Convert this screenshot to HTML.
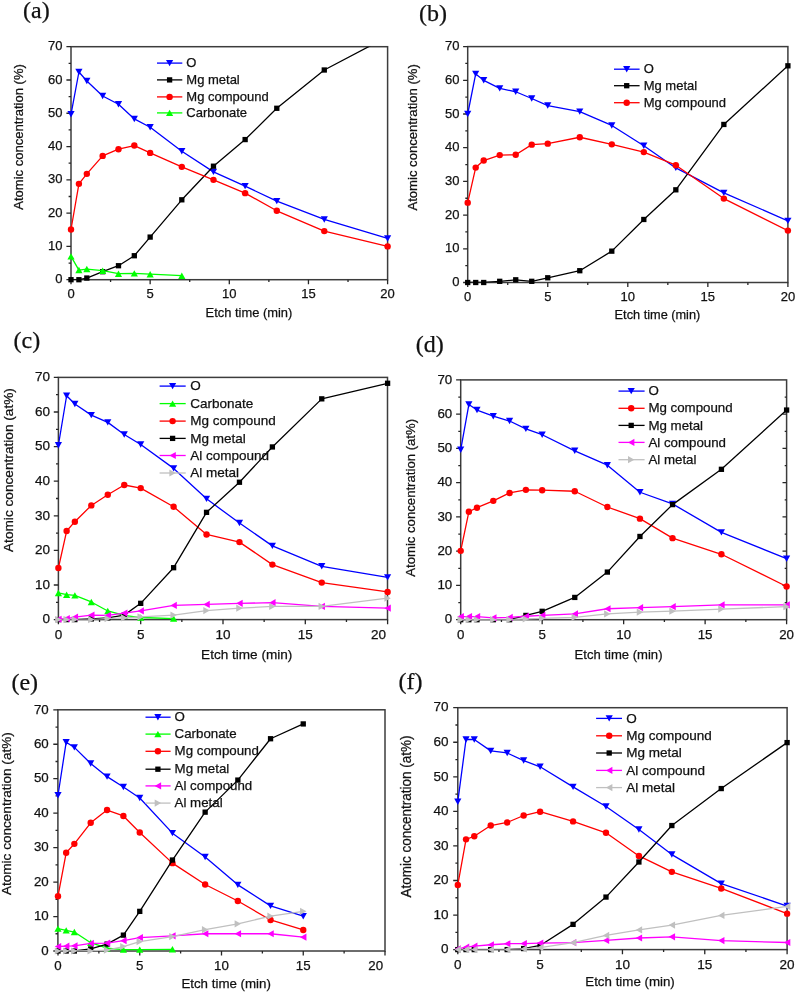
<!DOCTYPE html>
<html><head><meta charset="utf-8"><title>Atomic concentration vs etch time</title>
<style>html,body{margin:0;padding:0;background:#fff;}svg{display:block;will-change:transform;}text{fill:#111;stroke:#111;stroke-width:0.25px;}</style>
</head><body>
<svg width="796" height="992" viewBox="0 0 796 992" font-family="'Liberation Sans', sans-serif">
<rect width="796" height="992" fill="#fff"/>
<g id="pa">
<clipPath id="ca"><rect x="71" y="46.7" width="316.6" height="233"/></clipPath>
<rect x="71" y="46.7" width="316.6" height="233" fill="none" stroke="#3c3c3c" stroke-width="1.5"/>
<path d="M71 279.7v4.6 M110.58 279.7v2.4 M150.15 279.7v4.6 M189.72 279.7v2.4 M229.3 279.7v4.6 M268.88 279.7v2.4 M308.45 279.7v4.6 M348.02 279.7v2.4 M387.6 279.7v4.6 M71 279.7h-4.6 M71 263.06h-2.4 M71 246.41h-4.6 M71 229.77h-2.4 M71 213.13h-4.6 M71 196.49h-2.4 M71 179.84h-4.6 M71 163.2h-2.4 M71 146.56h-4.6 M71 129.91h-2.4 M71 113.27h-4.6 M71 96.63h-2.4 M71 79.99h-4.6 M71 63.34h-2.4 M71 46.7h-4.6" stroke="#262626" stroke-width="1.3" fill="none"/>
<polyline clip-path="url(#ca)" points="71,114.27 78.92,72 86.83,80.98 102.66,95.96 118.49,104.28 134.32,118.93 150.15,127.25 181.81,151.22 213.47,171.85 245.13,186.17 276.79,201.15 324.28,219.45 387.6,238.43" fill="none" stroke="#0000ff" stroke-width="1.3" stroke-linejoin="round"/>
<polygon points="67.4,111.07 74.6,111.07 71,117.47" fill="#0000ff"/>
<polygon points="75.32,68.8 82.52,68.8 78.92,75.2" fill="#0000ff"/>
<polygon points="83.23,77.78 90.43,77.78 86.83,84.18" fill="#0000ff"/>
<polygon points="99.06,92.76 106.26,92.76 102.66,99.16" fill="#0000ff"/>
<polygon points="114.89,101.08 122.09,101.08 118.49,107.48" fill="#0000ff"/>
<polygon points="130.72,115.73 137.92,115.73 134.32,122.13" fill="#0000ff"/>
<polygon points="146.55,124.05 153.75,124.05 150.15,130.45" fill="#0000ff"/>
<polygon points="178.21,148.02 185.41,148.02 181.81,154.42" fill="#0000ff"/>
<polygon points="209.87,168.65 217.07,168.65 213.47,175.05" fill="#0000ff"/>
<polygon points="241.53,182.97 248.73,182.97 245.13,189.37" fill="#0000ff"/>
<polygon points="273.19,197.95 280.39,197.95 276.79,204.35" fill="#0000ff"/>
<polygon points="320.68,216.25 327.88,216.25 324.28,222.65" fill="#0000ff"/>
<polygon points="384,235.23 391.2,235.23 387.6,241.63" fill="#0000ff"/>
<polyline clip-path="url(#ca)" points="71,279.7 78.92,279.7 86.83,278.04 102.66,271.71 118.49,265.72 134.32,255.73 150.15,237.09 181.81,199.81 213.47,166.2 245.13,139.57 276.79,108.28 324.28,70 387.6,36.71" fill="none" stroke="#000000" stroke-width="1.3" stroke-linejoin="round"/>
<rect x="68.35" y="277.05" width="5.3" height="5.3" fill="#000000"/>
<rect x="76.27" y="277.05" width="5.3" height="5.3" fill="#000000"/>
<rect x="84.18" y="275.39" width="5.3" height="5.3" fill="#000000"/>
<rect x="100.01" y="269.06" width="5.3" height="5.3" fill="#000000"/>
<rect x="115.84" y="263.07" width="5.3" height="5.3" fill="#000000"/>
<rect x="131.67" y="253.08" width="5.3" height="5.3" fill="#000000"/>
<rect x="147.5" y="234.44" width="5.3" height="5.3" fill="#000000"/>
<rect x="179.16" y="197.16" width="5.3" height="5.3" fill="#000000"/>
<rect x="210.82" y="163.55" width="5.3" height="5.3" fill="#000000"/>
<rect x="242.48" y="136.92" width="5.3" height="5.3" fill="#000000"/>
<rect x="274.14" y="105.63" width="5.3" height="5.3" fill="#000000"/>
<rect x="321.63" y="67.35" width="5.3" height="5.3" fill="#000000"/>
<polyline clip-path="url(#ca)" points="71,229.44 78.92,183.84 86.83,173.85 102.66,155.88 118.49,149.22 134.32,145.56 150.15,152.88 181.81,166.86 213.47,179.84 245.13,193.16 276.79,210.8 324.28,231.1 387.6,246.41" fill="none" stroke="#ff0000" stroke-width="1.3" stroke-linejoin="round"/>
<circle cx="71" cy="229.44" r="3.2" fill="#ff0000"/>
<circle cx="78.92" cy="183.84" r="3.2" fill="#ff0000"/>
<circle cx="86.83" cy="173.85" r="3.2" fill="#ff0000"/>
<circle cx="102.66" cy="155.88" r="3.2" fill="#ff0000"/>
<circle cx="118.49" cy="149.22" r="3.2" fill="#ff0000"/>
<circle cx="134.32" cy="145.56" r="3.2" fill="#ff0000"/>
<circle cx="150.15" cy="152.88" r="3.2" fill="#ff0000"/>
<circle cx="181.81" cy="166.86" r="3.2" fill="#ff0000"/>
<circle cx="213.47" cy="179.84" r="3.2" fill="#ff0000"/>
<circle cx="245.13" cy="193.16" r="3.2" fill="#ff0000"/>
<circle cx="276.79" cy="210.8" r="3.2" fill="#ff0000"/>
<circle cx="324.28" cy="231.1" r="3.2" fill="#ff0000"/>
<circle cx="387.6" cy="246.41" r="3.2" fill="#ff0000"/>
<polyline clip-path="url(#ca)" points="71,256.4 78.92,270.05 86.83,269.05 102.66,270.71 118.49,273.71 134.32,273.38 150.15,274.21 181.81,275.71" fill="none" stroke="#00ff00" stroke-width="1.3" stroke-linejoin="round"/>
<polygon points="67.4,259.6 74.6,259.6 71,253.2" fill="#00ff00"/>
<polygon points="75.32,273.25 82.52,273.25 78.92,266.85" fill="#00ff00"/>
<polygon points="83.23,272.25 90.43,272.25 86.83,265.85" fill="#00ff00"/>
<polygon points="99.06,273.91 106.26,273.91 102.66,267.51" fill="#00ff00"/>
<polygon points="114.89,276.91 122.09,276.91 118.49,270.51" fill="#00ff00"/>
<polygon points="130.72,276.58 137.92,276.58 134.32,270.18" fill="#00ff00"/>
<polygon points="146.55,277.41 153.75,277.41 150.15,271.01" fill="#00ff00"/>
<polygon points="178.21,278.91 185.41,278.91 181.81,272.51" fill="#00ff00"/>
<text x="71" y="298.4" font-size="13" text-anchor="middle">0</text>
<text x="150.15" y="298.4" font-size="13" text-anchor="middle">5</text>
<text x="229.3" y="298.4" font-size="13" text-anchor="middle">10</text>
<text x="308.45" y="298.4" font-size="13" text-anchor="middle">15</text>
<text x="387.6" y="298.4" font-size="13" text-anchor="middle">20</text>
<text x="62.5" y="283.3" font-size="13" text-anchor="end">0</text>
<text x="62.5" y="250.01" font-size="13" text-anchor="end">10</text>
<text x="62.5" y="216.73" font-size="13" text-anchor="end">20</text>
<text x="62.5" y="183.44" font-size="13" text-anchor="end">30</text>
<text x="62.5" y="150.16" font-size="13" text-anchor="end">40</text>
<text x="62.5" y="116.87" font-size="13" text-anchor="end">50</text>
<text x="62.5" y="83.59" font-size="13" text-anchor="end">60</text>
<text x="62.5" y="50.3" font-size="13" text-anchor="end">70</text>
<text x="205.6" y="316.9" font-size="13" textLength="86.7" lengthAdjust="spacingAndGlyphs">Etch time (min)</text>
<text transform="translate(23,209.7) rotate(-90)" font-size="13.2" textLength="145.6" lengthAdjust="spacingAndGlyphs">Atomic concentration (%)</text>
<line x1="157" y1="63.1" x2="182.3" y2="63.1" stroke="#0000ff" stroke-width="1.3"/>
<polygon points="166,59.9 173.2,59.9 169.6,66.3" fill="#0000ff"/>
<text x="186.3" y="67.2" font-size="13">O</text>
<line x1="157" y1="79.9" x2="182.3" y2="79.9" stroke="#000000" stroke-width="1.3"/>
<rect x="166.95" y="77.25" width="5.3" height="5.3" fill="#000000"/>
<text x="186.3" y="84" font-size="13">Mg metal</text>
<line x1="157" y1="96.9" x2="182.3" y2="96.9" stroke="#ff0000" stroke-width="1.3"/>
<circle cx="169.6" cy="96.9" r="3.2" fill="#ff0000"/>
<text x="186.3" y="101" font-size="13">Mg compound</text>
<line x1="157" y1="112.9" x2="182.3" y2="112.9" stroke="#00ff00" stroke-width="1.3"/>
<polygon points="166,116.1 173.2,116.1 169.6,109.7" fill="#00ff00"/>
<text x="186.3" y="117" font-size="13">Carbonate</text>
<text x="23" y="18.4" font-family="&quot;Liberation Serif&quot;, serif" font-size="24">(a)</text>
</g>
<g id="pb">
<clipPath id="cb"><rect x="467.7" y="46.6" width="320.2" height="235.9"/></clipPath>
<rect x="467.7" y="46.6" width="320.2" height="235.9" fill="none" stroke="#3c3c3c" stroke-width="1.5"/>
<path d="M467.7 282.5v4.6 M507.72 282.5v2.4 M547.75 282.5v4.6 M587.77 282.5v2.4 M627.8 282.5v4.6 M667.83 282.5v2.4 M707.85 282.5v4.6 M747.88 282.5v2.4 M787.9 282.5v4.6 M467.7 282.5h-4.6 M467.7 265.65h-2.4 M467.7 248.8h-4.6 M467.7 231.95h-2.4 M467.7 215.1h-4.6 M467.7 198.25h-2.4 M467.7 181.4h-4.6 M467.7 164.55h-2.4 M467.7 147.7h-4.6 M467.7 130.85h-2.4 M467.7 114h-4.6 M467.7 97.15h-2.4 M467.7 80.3h-4.6 M467.7 63.45h-2.4 M467.7 46.6h-4.6" stroke="#262626" stroke-width="1.3" fill="none"/>
<polyline clip-path="url(#cb)" points="467.7,114 475.7,73.9 483.71,80.3 499.72,88.39 515.73,91.76 531.74,98.5 547.75,105.57 579.77,111.64 611.79,125.46 643.81,145.68 675.83,167.92 723.86,192.86 787.9,220.83" fill="none" stroke="#0000ff" stroke-width="1.3" stroke-linejoin="round"/>
<polygon points="464.1,110.8 471.3,110.8 467.7,117.2" fill="#0000ff"/>
<polygon points="472.1,70.7 479.31,70.7 475.7,77.1" fill="#0000ff"/>
<polygon points="480.11,77.1 487.31,77.1 483.71,83.5" fill="#0000ff"/>
<polygon points="496.12,85.19 503.32,85.19 499.72,91.59" fill="#0000ff"/>
<polygon points="512.13,88.56 519.33,88.56 515.73,94.96" fill="#0000ff"/>
<polygon points="528.14,95.3 535.34,95.3 531.74,101.7" fill="#0000ff"/>
<polygon points="544.15,102.37 551.35,102.37 547.75,108.77" fill="#0000ff"/>
<polygon points="576.17,108.44 583.37,108.44 579.77,114.84" fill="#0000ff"/>
<polygon points="608.19,122.26 615.39,122.26 611.79,128.66" fill="#0000ff"/>
<polygon points="640.21,142.48 647.41,142.48 643.81,148.88" fill="#0000ff"/>
<polygon points="672.23,164.72 679.43,164.72 675.83,171.12" fill="#0000ff"/>
<polygon points="720.26,189.66 727.46,189.66 723.86,196.06" fill="#0000ff"/>
<polygon points="784.3,217.63 791.5,217.63 787.9,224.03" fill="#0000ff"/>
<polyline clip-path="url(#cb)" points="467.7,282.5 475.7,282.5 483.71,282.5 499.72,281.32 515.73,279.8 531.74,281.32 547.75,277.78 579.77,270.7 611.79,251.16 643.81,219.48 675.83,189.82 723.86,124.45 787.9,65.81" fill="none" stroke="#000000" stroke-width="1.3" stroke-linejoin="round"/>
<rect x="465.05" y="279.85" width="5.3" height="5.3" fill="#000000"/>
<rect x="473.06" y="279.85" width="5.3" height="5.3" fill="#000000"/>
<rect x="481.06" y="279.85" width="5.3" height="5.3" fill="#000000"/>
<rect x="497.07" y="278.67" width="5.3" height="5.3" fill="#000000"/>
<rect x="513.08" y="277.15" width="5.3" height="5.3" fill="#000000"/>
<rect x="529.09" y="278.67" width="5.3" height="5.3" fill="#000000"/>
<rect x="545.1" y="275.13" width="5.3" height="5.3" fill="#000000"/>
<rect x="577.12" y="268.06" width="5.3" height="5.3" fill="#000000"/>
<rect x="609.14" y="248.51" width="5.3" height="5.3" fill="#000000"/>
<rect x="641.16" y="216.83" width="5.3" height="5.3" fill="#000000"/>
<rect x="673.18" y="187.17" width="5.3" height="5.3" fill="#000000"/>
<rect x="721.21" y="121.8" width="5.3" height="5.3" fill="#000000"/>
<rect x="785.25" y="63.16" width="5.3" height="5.3" fill="#000000"/>
<polyline clip-path="url(#cb)" points="467.7,202.63 475.7,167.58 483.71,160.51 499.72,155.11 515.73,154.78 531.74,144.67 547.75,143.66 579.77,137.25 611.79,144.33 643.81,152.08 675.83,165.22 723.86,198.59 787.9,230.6" fill="none" stroke="#ff0000" stroke-width="1.3" stroke-linejoin="round"/>
<circle cx="467.7" cy="202.63" r="3.2" fill="#ff0000"/>
<circle cx="475.7" cy="167.58" r="3.2" fill="#ff0000"/>
<circle cx="483.71" cy="160.51" r="3.2" fill="#ff0000"/>
<circle cx="499.72" cy="155.11" r="3.2" fill="#ff0000"/>
<circle cx="515.73" cy="154.78" r="3.2" fill="#ff0000"/>
<circle cx="531.74" cy="144.67" r="3.2" fill="#ff0000"/>
<circle cx="547.75" cy="143.66" r="3.2" fill="#ff0000"/>
<circle cx="579.77" cy="137.25" r="3.2" fill="#ff0000"/>
<circle cx="611.79" cy="144.33" r="3.2" fill="#ff0000"/>
<circle cx="643.81" cy="152.08" r="3.2" fill="#ff0000"/>
<circle cx="675.83" cy="165.22" r="3.2" fill="#ff0000"/>
<circle cx="723.86" cy="198.59" r="3.2" fill="#ff0000"/>
<circle cx="787.9" cy="230.6" r="3.2" fill="#ff0000"/>
<text x="467.7" y="300.6" font-size="13" text-anchor="middle">0</text>
<text x="547.75" y="300.6" font-size="13" text-anchor="middle">5</text>
<text x="627.8" y="300.6" font-size="13" text-anchor="middle">10</text>
<text x="707.85" y="300.6" font-size="13" text-anchor="middle">15</text>
<text x="787.9" y="300.6" font-size="13" text-anchor="middle">20</text>
<text x="459.4" y="286.1" font-size="13" text-anchor="end">0</text>
<text x="459.4" y="252.4" font-size="13" text-anchor="end">10</text>
<text x="459.4" y="218.7" font-size="13" text-anchor="end">20</text>
<text x="459.4" y="185" font-size="13" text-anchor="end">30</text>
<text x="459.4" y="151.3" font-size="13" text-anchor="end">40</text>
<text x="459.4" y="117.6" font-size="13" text-anchor="end">50</text>
<text x="459.4" y="83.9" font-size="13" text-anchor="end">60</text>
<text x="459.4" y="50.2" font-size="13" text-anchor="end">70</text>
<text x="614.6" y="319.1" font-size="13" textLength="85.7" lengthAdjust="spacingAndGlyphs">Etch time (min)</text>
<text transform="translate(416.5,210.6) rotate(-90)" font-size="13.0" textLength="146.4" lengthAdjust="spacingAndGlyphs">Atomic concentration (%)</text>
<line x1="614" y1="69.2" x2="639.6" y2="69.2" stroke="#0000ff" stroke-width="1.3"/>
<polygon points="623.1,66 630.3,66 626.7,72.4" fill="#0000ff"/>
<text x="643.7" y="73.3" font-size="13">O</text>
<line x1="614" y1="85.7" x2="639.6" y2="85.7" stroke="#000000" stroke-width="1.3"/>
<rect x="624.05" y="83.05" width="5.3" height="5.3" fill="#000000"/>
<text x="643.7" y="89.8" font-size="13">Mg metal</text>
<line x1="614" y1="102.7" x2="639.6" y2="102.7" stroke="#ff0000" stroke-width="1.3"/>
<circle cx="626.7" cy="102.7" r="3.2" fill="#ff0000"/>
<text x="643.7" y="106.8" font-size="13">Mg compound</text>
<text x="419" y="21" font-family="&quot;Liberation Serif&quot;, serif" font-size="24">(b)</text>
</g>
<g id="pc">
<clipPath id="cc"><rect x="58.4" y="377.4" width="329.1" height="242.2"/></clipPath>
<rect x="58.4" y="377.4" width="329.1" height="242.2" fill="none" stroke="#3c3c3c" stroke-width="1.5"/>
<path d="M58.4 619.6v4.6 M99.55 619.6v2.4 M140.7 619.6v4.6 M181.85 619.6v2.4 M223 619.6v4.6 M264.15 619.6v2.4 M305.3 619.6v4.6 M346.45 619.6v2.4 M387.6 619.6v4.6 M58.4 619.6h-4.6 M58.4 602.3h-2.4 M58.4 585h-4.6 M58.4 567.7h-2.4 M58.4 550.4h-4.6 M58.4 533.1h-2.4 M58.4 515.8h-4.6 M58.4 498.5h-2.4 M58.4 481.2h-4.6 M58.4 463.9h-2.4 M58.4 446.6h-4.6 M58.4 429.3h-2.4 M58.4 412h-4.6 M58.4 394.7h-2.4 M58.4 377.4h-4.6" stroke="#262626" stroke-width="1.3" fill="none"/>
<polyline clip-path="url(#cc)" points="58.4,445.22 66.63,395.74 74.86,404.04 91.32,415.11 107.78,422.38 124.24,434.49 140.7,444.52 173.62,468.4 206.54,498.85 239.46,523.07 272.38,545.9 321.76,566.32 387.6,577.39" fill="none" stroke="#0000ff" stroke-width="1.3" stroke-linejoin="round"/>
<polygon points="54.8,442.02 62,442.02 58.4,448.42" fill="#0000ff"/>
<polygon points="63.03,392.54 70.23,392.54 66.63,398.94" fill="#0000ff"/>
<polygon points="71.26,400.84 78.46,400.84 74.86,407.24" fill="#0000ff"/>
<polygon points="87.72,411.91 94.92,411.91 91.32,418.31" fill="#0000ff"/>
<polygon points="104.18,419.18 111.38,419.18 107.78,425.58" fill="#0000ff"/>
<polygon points="120.64,431.29 127.84,431.29 124.24,437.69" fill="#0000ff"/>
<polygon points="137.1,441.32 144.3,441.32 140.7,447.72" fill="#0000ff"/>
<polygon points="170.02,465.2 177.22,465.2 173.62,471.6" fill="#0000ff"/>
<polygon points="202.94,495.65 210.14,495.65 206.54,502.05" fill="#0000ff"/>
<polygon points="235.86,519.87 243.06,519.87 239.46,526.27" fill="#0000ff"/>
<polygon points="268.78,542.7 275.98,542.7 272.38,549.1" fill="#0000ff"/>
<polygon points="318.16,563.12 325.36,563.12 321.76,569.52" fill="#0000ff"/>
<polygon points="384,574.19 391.2,574.19 387.6,580.59" fill="#0000ff"/>
<polyline clip-path="url(#cc)" points="58.4,592.96 66.63,594.69 74.86,595.38 91.32,601.95 107.78,610.95 124.24,615.45 140.7,617.52 173.62,618.56" fill="none" stroke="#00ff00" stroke-width="1.3" stroke-linejoin="round"/>
<polygon points="54.8,596.16 62,596.16 58.4,589.76" fill="#00ff00"/>
<polygon points="63.03,597.89 70.23,597.89 66.63,591.49" fill="#00ff00"/>
<polygon points="71.26,598.58 78.46,598.58 74.86,592.18" fill="#00ff00"/>
<polygon points="87.72,605.15 94.92,605.15 91.32,598.75" fill="#00ff00"/>
<polygon points="104.18,614.15 111.38,614.15 107.78,607.75" fill="#00ff00"/>
<polygon points="120.64,618.65 127.84,618.65 124.24,612.25" fill="#00ff00"/>
<polygon points="137.1,620.72 144.3,620.72 140.7,614.32" fill="#00ff00"/>
<polygon points="170.02,621.76 177.22,621.76 173.62,615.36" fill="#00ff00"/>
<polyline clip-path="url(#cc)" points="58.4,568.05 66.63,531.02 74.86,521.68 91.32,505.42 107.78,494.69 124.24,485.01 140.7,488.12 173.62,506.8 206.54,534.48 239.46,542.1 272.38,564.59 321.76,582.58 387.6,591.92" fill="none" stroke="#ff0000" stroke-width="1.3" stroke-linejoin="round"/>
<circle cx="58.4" cy="568.05" r="3.2" fill="#ff0000"/>
<circle cx="66.63" cy="531.02" r="3.2" fill="#ff0000"/>
<circle cx="74.86" cy="521.68" r="3.2" fill="#ff0000"/>
<circle cx="91.32" cy="505.42" r="3.2" fill="#ff0000"/>
<circle cx="107.78" cy="494.69" r="3.2" fill="#ff0000"/>
<circle cx="124.24" cy="485.01" r="3.2" fill="#ff0000"/>
<circle cx="140.7" cy="488.12" r="3.2" fill="#ff0000"/>
<circle cx="173.62" cy="506.8" r="3.2" fill="#ff0000"/>
<circle cx="206.54" cy="534.48" r="3.2" fill="#ff0000"/>
<circle cx="239.46" cy="542.1" r="3.2" fill="#ff0000"/>
<circle cx="272.38" cy="564.59" r="3.2" fill="#ff0000"/>
<circle cx="321.76" cy="582.58" r="3.2" fill="#ff0000"/>
<circle cx="387.6" cy="591.92" r="3.2" fill="#ff0000"/>
<polyline clip-path="url(#cc)" points="58.4,619.6 66.63,619.6 74.86,619.6 91.32,618.91 107.78,617.87 124.24,615.1 140.7,603.34 173.62,567.7 206.54,512.34 239.46,482.24 272.38,446.95 321.76,398.85 387.6,383.28" fill="none" stroke="#000000" stroke-width="1.3" stroke-linejoin="round"/>
<rect x="55.75" y="616.95" width="5.3" height="5.3" fill="#000000"/>
<rect x="63.98" y="616.95" width="5.3" height="5.3" fill="#000000"/>
<rect x="72.21" y="616.95" width="5.3" height="5.3" fill="#000000"/>
<rect x="88.67" y="616.26" width="5.3" height="5.3" fill="#000000"/>
<rect x="105.13" y="615.22" width="5.3" height="5.3" fill="#000000"/>
<rect x="121.59" y="612.45" width="5.3" height="5.3" fill="#000000"/>
<rect x="138.05" y="600.69" width="5.3" height="5.3" fill="#000000"/>
<rect x="170.97" y="565.05" width="5.3" height="5.3" fill="#000000"/>
<rect x="203.89" y="509.69" width="5.3" height="5.3" fill="#000000"/>
<rect x="236.81" y="479.59" width="5.3" height="5.3" fill="#000000"/>
<rect x="269.73" y="444.3" width="5.3" height="5.3" fill="#000000"/>
<rect x="319.11" y="396.2" width="5.3" height="5.3" fill="#000000"/>
<rect x="384.95" y="380.63" width="5.3" height="5.3" fill="#000000"/>
<polyline clip-path="url(#cc)" points="58.4,619.25 66.63,618.56 74.86,617.18 91.32,615.1 107.78,615.45 124.24,613.03 140.7,610.95 173.62,605.41 206.54,604.38 239.46,603.34 272.38,602.65 321.76,606.45 387.6,608.18" fill="none" stroke="#ff00ff" stroke-width="1.3" stroke-linejoin="round"/>
<polygon points="61.6,615.65 61.6,622.85 55.2,619.25" fill="#ff00ff"/>
<polygon points="69.83,614.96 69.83,622.16 63.43,618.56" fill="#ff00ff"/>
<polygon points="78.06,613.58 78.06,620.78 71.66,617.18" fill="#ff00ff"/>
<polygon points="94.52,611.5 94.52,618.7 88.12,615.1" fill="#ff00ff"/>
<polygon points="110.98,611.85 110.98,619.05 104.58,615.45" fill="#ff00ff"/>
<polygon points="127.44,609.43 127.44,616.63 121.04,613.03" fill="#ff00ff"/>
<polygon points="143.9,607.35 143.9,614.55 137.5,610.95" fill="#ff00ff"/>
<polygon points="176.82,601.81 176.82,609.01 170.42,605.41" fill="#ff00ff"/>
<polygon points="209.74,600.78 209.74,607.98 203.34,604.38" fill="#ff00ff"/>
<polygon points="242.66,599.74 242.66,606.94 236.26,603.34" fill="#ff00ff"/>
<polygon points="275.58,599.05 275.58,606.25 269.18,602.65" fill="#ff00ff"/>
<polygon points="324.96,602.85 324.96,610.05 318.56,606.45" fill="#ff00ff"/>
<polygon points="390.8,604.58 390.8,611.78 384.4,608.18" fill="#ff00ff"/>
<polyline clip-path="url(#cc)" points="58.4,619.6 66.63,619.6 74.86,619.6 91.32,619.6 107.78,618.56 124.24,617.87 140.7,616.83 173.62,615.1 206.54,610.6 239.46,608.18 272.38,606.45 321.76,606.45 387.6,598.15" fill="none" stroke="#c0c0c0" stroke-width="1.3" stroke-linejoin="round"/>
<polygon points="55.2,616 55.2,623.2 61.6,619.6" fill="#c0c0c0"/>
<polygon points="63.43,616 63.43,623.2 69.83,619.6" fill="#c0c0c0"/>
<polygon points="71.66,616 71.66,623.2 78.06,619.6" fill="#c0c0c0"/>
<polygon points="88.12,616 88.12,623.2 94.52,619.6" fill="#c0c0c0"/>
<polygon points="104.58,614.96 104.58,622.16 110.98,618.56" fill="#c0c0c0"/>
<polygon points="121.04,614.27 121.04,621.47 127.44,617.87" fill="#c0c0c0"/>
<polygon points="137.5,613.23 137.5,620.43 143.9,616.83" fill="#c0c0c0"/>
<polygon points="170.42,611.5 170.42,618.7 176.82,615.1" fill="#c0c0c0"/>
<polygon points="203.34,607 203.34,614.2 209.74,610.6" fill="#c0c0c0"/>
<polygon points="236.26,604.58 236.26,611.78 242.66,608.18" fill="#c0c0c0"/>
<polygon points="269.18,602.85 269.18,610.05 275.58,606.45" fill="#c0c0c0"/>
<polygon points="318.56,602.85 318.56,610.05 324.96,606.45" fill="#c0c0c0"/>
<polygon points="384.4,594.55 384.4,601.75 390.8,598.15" fill="#c0c0c0"/>
<text x="58.4" y="639.06" font-size="13.5" text-anchor="middle">0</text>
<text x="140.7" y="639.06" font-size="13.5" text-anchor="middle">5</text>
<text x="223" y="639.06" font-size="13.5" text-anchor="middle">10</text>
<text x="305.3" y="639.06" font-size="13.5" text-anchor="middle">15</text>
<text x="378.4" y="639.06" font-size="13.5" text-anchor="middle">20</text>
<text x="50" y="623.38" font-size="13.5" text-anchor="end">0</text>
<text x="50" y="588.78" font-size="13.5" text-anchor="end">10</text>
<text x="50" y="554.18" font-size="13.5" text-anchor="end">20</text>
<text x="50" y="519.58" font-size="13.5" text-anchor="end">30</text>
<text x="50" y="484.98" font-size="13.5" text-anchor="end">40</text>
<text x="50" y="450.38" font-size="13.5" text-anchor="end">50</text>
<text x="50" y="415.78" font-size="13.5" text-anchor="end">60</text>
<text x="50" y="381.18" font-size="13.5" text-anchor="end">70</text>
<text x="201.1" y="658.6" font-size="13.5" textLength="91.2" lengthAdjust="spacingAndGlyphs">Etch time (min)</text>
<text transform="translate(12.9,552) rotate(-90)" font-size="13.7" textLength="163.9" lengthAdjust="spacingAndGlyphs">Atomic concentration (at%)</text>
<line x1="159.6" y1="386.1" x2="185.7" y2="386.1" stroke="#0000ff" stroke-width="1.3"/>
<polygon points="169,382.9 176.2,382.9 172.6,389.3" fill="#0000ff"/>
<text x="190.2" y="390.36" font-size="13.5">O</text>
<line x1="159.6" y1="403.6" x2="185.7" y2="403.6" stroke="#00ff00" stroke-width="1.3"/>
<polygon points="169,406.8 176.2,406.8 172.6,400.4" fill="#00ff00"/>
<text x="190.2" y="407.86" font-size="13.5">Carbonate</text>
<line x1="159.6" y1="421.1" x2="185.7" y2="421.1" stroke="#ff0000" stroke-width="1.3"/>
<circle cx="172.6" cy="421.1" r="3.2" fill="#ff0000"/>
<text x="190.2" y="425.36" font-size="13.5">Mg compound</text>
<line x1="159.6" y1="438.4" x2="185.7" y2="438.4" stroke="#000000" stroke-width="1.3"/>
<rect x="169.95" y="435.75" width="5.3" height="5.3" fill="#000000"/>
<text x="190.2" y="442.66" font-size="13.5">Mg metal</text>
<line x1="159.6" y1="455.5" x2="185.7" y2="455.5" stroke="#ff00ff" stroke-width="1.3"/>
<polygon points="175.8,451.9 175.8,459.1 169.4,455.5" fill="#ff00ff"/>
<text x="190.2" y="459.76" font-size="13.5">Al compound</text>
<line x1="159.6" y1="473" x2="185.7" y2="473" stroke="#c0c0c0" stroke-width="1.3"/>
<polygon points="169.4,469.4 169.4,476.6 175.8,473" fill="#c0c0c0"/>
<text x="190.2" y="477.26" font-size="13.5">Al metal</text>
<text x="13.6" y="348" font-family="&quot;Liberation Serif&quot;, serif" font-size="24">(c)</text>
</g>
<g id="pd">
<clipPath id="cd"><rect x="460.7" y="379.9" width="325.9" height="239.8"/></clipPath>
<rect x="460.7" y="379.9" width="325.9" height="239.8" fill="none" stroke="#3c3c3c" stroke-width="1.5"/>
<path d="M460.7 619.7v4.6 M501.44 619.7v2.4 M542.17 619.7v4.6 M582.91 619.7v2.4 M623.65 619.7v4.6 M664.39 619.7v2.4 M705.12 619.7v4.6 M745.86 619.7v2.4 M786.6 619.7v4.6 M460.7 619.7h-4.6 M460.7 602.57h-2.4 M786.6 602.57h-1.9 M460.7 585.44h-4.6 M786.6 585.44h-4.1 M460.7 568.31h-2.4 M786.6 568.31h-1.9 M460.7 551.19h-4.6 M786.6 551.19h-4.1 M460.7 534.06h-2.4 M786.6 534.06h-1.9 M460.7 516.93h-4.6 M786.6 516.93h-4.1 M460.7 499.8h-2.4 M786.6 499.8h-1.9 M460.7 482.67h-4.6 M786.6 482.67h-4.1 M460.7 465.54h-2.4 M786.6 465.54h-1.9 M460.7 448.41h-4.6 M786.6 448.41h-4.1 M460.7 431.29h-2.4 M786.6 431.29h-1.9 M460.7 414.16h-4.6 M786.6 414.16h-4.1 M460.7 397.03h-2.4 M786.6 397.03h-1.9 M460.7 379.9h-4.6" stroke="#262626" stroke-width="1.3" fill="none"/>
<polyline clip-path="url(#cd)" points="460.7,449.78 468.85,404.57 477,410.05 493.29,416.21 509.58,421.01 525.88,428.89 542.17,434.71 574.76,450.81 607.36,465.2 639.95,492.26 672.54,503.91 721.42,532.34 786.6,558.72" fill="none" stroke="#0000ff" stroke-width="1.3" stroke-linejoin="round"/>
<polygon points="457.1,446.58 464.3,446.58 460.7,452.98" fill="#0000ff"/>
<polygon points="465.25,401.37 472.45,401.37 468.85,407.77" fill="#0000ff"/>
<polygon points="473.39,406.85 480.6,406.85 477,413.25" fill="#0000ff"/>
<polygon points="489.69,413.01 496.89,413.01 493.29,419.41" fill="#0000ff"/>
<polygon points="505.98,417.81 513.18,417.81 509.58,424.21" fill="#0000ff"/>
<polygon points="522.28,425.69 529.48,425.69 525.88,432.09" fill="#0000ff"/>
<polygon points="538.57,431.51 545.77,431.51 542.17,437.91" fill="#0000ff"/>
<polygon points="571.16,447.61 578.37,447.61 574.76,454.01" fill="#0000ff"/>
<polygon points="603.75,462 610.96,462 607.36,468.4" fill="#0000ff"/>
<polygon points="636.35,489.06 643.55,489.06 639.95,495.46" fill="#0000ff"/>
<polygon points="668.94,500.71 676.14,500.71 672.54,507.11" fill="#0000ff"/>
<polygon points="717.82,529.14 725.02,529.14 721.42,535.54" fill="#0000ff"/>
<polygon points="783,555.52 790.2,555.52 786.6,561.92" fill="#0000ff"/>
<polyline clip-path="url(#cd)" points="460.7,550.84 468.85,511.79 477,507.68 493.29,500.83 509.58,492.95 525.88,489.87 542.17,490.21 574.76,491.24 607.36,506.99 639.95,518.64 672.54,538.17 721.42,554.27 786.6,586.47" fill="none" stroke="#ff0000" stroke-width="1.3" stroke-linejoin="round"/>
<circle cx="460.7" cy="550.84" r="3.2" fill="#ff0000"/>
<circle cx="468.85" cy="511.79" r="3.2" fill="#ff0000"/>
<circle cx="477" cy="507.68" r="3.2" fill="#ff0000"/>
<circle cx="493.29" cy="500.83" r="3.2" fill="#ff0000"/>
<circle cx="509.58" cy="492.95" r="3.2" fill="#ff0000"/>
<circle cx="525.88" cy="489.87" r="3.2" fill="#ff0000"/>
<circle cx="542.17" cy="490.21" r="3.2" fill="#ff0000"/>
<circle cx="574.76" cy="491.24" r="3.2" fill="#ff0000"/>
<circle cx="607.36" cy="506.99" r="3.2" fill="#ff0000"/>
<circle cx="639.95" cy="518.64" r="3.2" fill="#ff0000"/>
<circle cx="672.54" cy="538.17" r="3.2" fill="#ff0000"/>
<circle cx="721.42" cy="554.27" r="3.2" fill="#ff0000"/>
<circle cx="786.6" cy="586.47" r="3.2" fill="#ff0000"/>
<polyline clip-path="url(#cd)" points="460.7,619.7 468.85,619.7 477,619.7 493.29,619.7 509.58,619.7 525.88,615.42 542.17,611.31 574.76,597.43 607.36,572.08 639.95,536.46 672.54,504.6 721.42,469.31 786.6,410.05" fill="none" stroke="#000000" stroke-width="1.3" stroke-linejoin="round"/>
<rect x="458.05" y="617.05" width="5.3" height="5.3" fill="#000000"/>
<rect x="466.2" y="617.05" width="5.3" height="5.3" fill="#000000"/>
<rect x="474.35" y="617.05" width="5.3" height="5.3" fill="#000000"/>
<rect x="490.64" y="617.05" width="5.3" height="5.3" fill="#000000"/>
<rect x="506.94" y="617.05" width="5.3" height="5.3" fill="#000000"/>
<rect x="523.23" y="612.77" width="5.3" height="5.3" fill="#000000"/>
<rect x="539.52" y="608.66" width="5.3" height="5.3" fill="#000000"/>
<rect x="572.12" y="594.78" width="5.3" height="5.3" fill="#000000"/>
<rect x="604.71" y="569.43" width="5.3" height="5.3" fill="#000000"/>
<rect x="637.3" y="533.81" width="5.3" height="5.3" fill="#000000"/>
<rect x="669.89" y="501.95" width="5.3" height="5.3" fill="#000000"/>
<rect x="718.77" y="466.66" width="5.3" height="5.3" fill="#000000"/>
<rect x="783.95" y="407.4" width="5.3" height="5.3" fill="#000000"/>
<polyline clip-path="url(#cd)" points="460.7,616.62 468.85,616.62 477,616.62 493.29,617.82 509.58,617.3 525.88,616.27 542.17,615.42 574.76,613.88 607.36,608.74 639.95,607.71 672.54,606.68 721.42,604.97 786.6,604.97" fill="none" stroke="#ff00ff" stroke-width="1.3" stroke-linejoin="round"/>
<polygon points="463.9,613.02 463.9,620.22 457.5,616.62" fill="#ff00ff"/>
<polygon points="472.05,613.02 472.05,620.22 465.65,616.62" fill="#ff00ff"/>
<polygon points="480.19,613.02 480.19,620.22 473.8,616.62" fill="#ff00ff"/>
<polygon points="496.49,614.22 496.49,621.42 490.09,617.82" fill="#ff00ff"/>
<polygon points="512.78,613.7 512.78,620.9 506.38,617.3" fill="#ff00ff"/>
<polygon points="529.08,612.67 529.08,619.87 522.68,616.27" fill="#ff00ff"/>
<polygon points="545.38,611.82 545.38,619.02 538.97,615.42" fill="#ff00ff"/>
<polygon points="577.97,610.28 577.97,617.48 571.56,613.88" fill="#ff00ff"/>
<polygon points="610.56,605.14 610.56,612.34 604.15,608.74" fill="#ff00ff"/>
<polygon points="643.15,604.11 643.15,611.31 636.75,607.71" fill="#ff00ff"/>
<polygon points="675.74,603.08 675.74,610.28 669.34,606.68" fill="#ff00ff"/>
<polygon points="724.62,601.37 724.62,608.57 718.22,604.97" fill="#ff00ff"/>
<polygon points="789.8,601.37 789.8,608.57 783.4,604.97" fill="#ff00ff"/>
<polyline clip-path="url(#cd)" points="460.7,619.7 468.85,619.7 477,619.7 493.29,619.7 509.58,619.7 525.88,619.01 542.17,618.33 574.76,617.3 607.36,613.88 639.95,612.16 672.54,611.14 721.42,609.08 786.6,606.68" fill="none" stroke="#c0c0c0" stroke-width="1.3" stroke-linejoin="round"/>
<polygon points="457.5,616.1 457.5,623.3 463.9,619.7" fill="#c0c0c0"/>
<polygon points="465.65,616.1 465.65,623.3 472.05,619.7" fill="#c0c0c0"/>
<polygon points="473.8,616.1 473.8,623.3 480.19,619.7" fill="#c0c0c0"/>
<polygon points="490.09,616.1 490.09,623.3 496.49,619.7" fill="#c0c0c0"/>
<polygon points="506.38,616.1 506.38,623.3 512.78,619.7" fill="#c0c0c0"/>
<polygon points="522.68,615.41 522.68,622.61 529.08,619.01" fill="#c0c0c0"/>
<polygon points="538.97,614.73 538.97,621.93 545.38,618.33" fill="#c0c0c0"/>
<polygon points="571.56,613.7 571.56,620.9 577.97,617.3" fill="#c0c0c0"/>
<polygon points="604.15,610.28 604.15,617.48 610.56,613.88" fill="#c0c0c0"/>
<polygon points="636.75,608.56 636.75,615.76 643.15,612.16" fill="#c0c0c0"/>
<polygon points="669.34,607.54 669.34,614.74 675.74,611.14" fill="#c0c0c0"/>
<polygon points="718.22,605.48 718.22,612.68 724.62,609.08" fill="#c0c0c0"/>
<polygon points="783.4,603.08 783.4,610.28 789.8,606.68" fill="#c0c0c0"/>
<text x="460.7" y="638.71" font-size="13.3" text-anchor="middle">0</text>
<text x="542.17" y="638.71" font-size="13.3" text-anchor="middle">5</text>
<text x="623.65" y="638.71" font-size="13.3" text-anchor="middle">10</text>
<text x="705.12" y="638.71" font-size="13.3" text-anchor="middle">15</text>
<text x="786.6" y="638.71" font-size="13.3" text-anchor="middle">20</text>
<text x="452.2" y="623.41" font-size="13.3" text-anchor="end">0</text>
<text x="452.2" y="589.15" font-size="13.3" text-anchor="end">10</text>
<text x="452.2" y="554.89" font-size="13.3" text-anchor="end">20</text>
<text x="452.2" y="520.63" font-size="13.3" text-anchor="end">30</text>
<text x="452.2" y="486.38" font-size="13.3" text-anchor="end">40</text>
<text x="452.2" y="452.12" font-size="13.3" text-anchor="end">50</text>
<text x="452.2" y="417.86" font-size="13.3" text-anchor="end">60</text>
<text x="452.2" y="383.61" font-size="13.3" text-anchor="end">70</text>
<text x="574.6" y="659.4" font-size="13.3" textLength="87.9" lengthAdjust="spacingAndGlyphs">Etch time (min)</text>
<text transform="translate(415,576.8) rotate(-90)" font-size="13.6" textLength="157.9" lengthAdjust="spacingAndGlyphs">Atomic concentration (at%)</text>
<line x1="618.5" y1="391.1" x2="644.6" y2="391.1" stroke="#0000ff" stroke-width="1.3"/>
<polygon points="627.6,387.9 634.8,387.9 631.2,394.3" fill="#0000ff"/>
<text x="648.4" y="395.29" font-size="13.3">O</text>
<line x1="618.5" y1="408.3" x2="644.6" y2="408.3" stroke="#ff0000" stroke-width="1.3"/>
<circle cx="631.2" cy="408.3" r="3.2" fill="#ff0000"/>
<text x="648.4" y="412.49" font-size="13.3">Mg compound</text>
<line x1="618.5" y1="425.4" x2="644.6" y2="425.4" stroke="#000000" stroke-width="1.3"/>
<rect x="628.55" y="422.75" width="5.3" height="5.3" fill="#000000"/>
<text x="648.4" y="429.59" font-size="13.3">Mg metal</text>
<line x1="618.5" y1="442.4" x2="644.6" y2="442.4" stroke="#ff00ff" stroke-width="1.3"/>
<polygon points="634.4,438.8 634.4,446 628,442.4" fill="#ff00ff"/>
<text x="648.4" y="446.59" font-size="13.3">Al compound</text>
<line x1="618.5" y1="459.7" x2="644.6" y2="459.7" stroke="#c0c0c0" stroke-width="1.3"/>
<polygon points="628,456.1 628,463.3 634.4,459.7" fill="#c0c0c0"/>
<text x="648.4" y="463.89" font-size="13.3">Al metal</text>
<text x="415.7" y="351.6" font-family="&quot;Liberation Serif&quot;, serif" font-size="24">(d)</text>
</g>
<g id="pe">
<clipPath id="ce"><rect x="57.9" y="709.8" width="327.1" height="241.2"/></clipPath>
<rect x="57.9" y="709.8" width="327.1" height="241.2" fill="none" stroke="#3c3c3c" stroke-width="1.5"/>
<path d="M58 951v4.6 M98.88 951v2.4 M139.75 951v4.6 M180.62 951v2.4 M221.5 951v4.6 M262.38 951v2.4 M303.25 951v4.6 M344.12 951v2.4 M385 951v4.6 M57.9 951h-4.6 M57.9 933.77h-2.4 M57.9 916.54h-4.6 M57.9 899.31h-2.4 M57.9 882.09h-4.6 M57.9 864.86h-2.4 M57.9 847.63h-4.6 M57.9 830.4h-2.4 M57.9 813.17h-4.6 M57.9 795.94h-2.4 M57.9 778.71h-4.6 M57.9 761.49h-2.4 M57.9 744.26h-4.6 M57.9 727.03h-2.4 M57.9 709.8h-4.6" stroke="#262626" stroke-width="1.3" fill="none"/>
<polyline clip-path="url(#ce)" points="58,795.25 66.17,742.19 74.35,747.36 90.7,763.55 107.05,776.65 123.4,786.98 139.75,798.01 172.45,833.16 205.15,856.93 237.85,884.84 270.55,905.86 303.25,916.2" fill="none" stroke="#0000ff" stroke-width="1.3" stroke-linejoin="round"/>
<polygon points="54.4,792.05 61.6,792.05 58,798.45" fill="#0000ff"/>
<polygon points="62.57,738.99 69.77,738.99 66.17,745.39" fill="#0000ff"/>
<polygon points="70.75,744.16 77.95,744.16 74.35,750.56" fill="#0000ff"/>
<polygon points="87.1,760.35 94.3,760.35 90.7,766.75" fill="#0000ff"/>
<polygon points="103.45,773.45 110.65,773.45 107.05,779.85" fill="#0000ff"/>
<polygon points="119.8,783.78 127,783.78 123.4,790.18" fill="#0000ff"/>
<polygon points="136.15,794.81 143.35,794.81 139.75,801.21" fill="#0000ff"/>
<polygon points="168.85,829.96 176.05,829.96 172.45,836.36" fill="#0000ff"/>
<polygon points="201.55,853.73 208.75,853.73 205.15,860.13" fill="#0000ff"/>
<polygon points="234.25,881.64 241.45,881.64 237.85,888.04" fill="#0000ff"/>
<polygon points="266.95,902.66 274.15,902.66 270.55,909.06" fill="#0000ff"/>
<polygon points="299.65,913 306.85,913 303.25,919.4" fill="#0000ff"/>
<polyline clip-path="url(#ce)" points="58,928.6 66.17,930.33 74.35,932.05 90.7,942.73 107.05,948.24 123.4,949.62 139.75,949.62 172.45,949.28" fill="none" stroke="#00ff00" stroke-width="1.3" stroke-linejoin="round"/>
<polygon points="54.4,931.8 61.6,931.8 58,925.4" fill="#00ff00"/>
<polygon points="62.57,933.53 69.77,933.53 66.17,927.13" fill="#00ff00"/>
<polygon points="70.75,935.25 77.95,935.25 74.35,928.85" fill="#00ff00"/>
<polygon points="87.1,945.93 94.3,945.93 90.7,939.53" fill="#00ff00"/>
<polygon points="103.45,951.44 110.65,951.44 107.05,945.04" fill="#00ff00"/>
<polygon points="119.8,952.82 127,952.82 123.4,946.42" fill="#00ff00"/>
<polygon points="136.15,952.82 143.35,952.82 139.75,946.42" fill="#00ff00"/>
<polygon points="168.85,952.48 176.05,952.48 172.45,946.08" fill="#00ff00"/>
<polyline clip-path="url(#ce)" points="58,896.21 66.17,852.8 74.35,843.84 90.7,822.82 107.05,810.07 123.4,815.93 139.75,832.47 172.45,863.13 205.15,884.5 237.85,901.04 270.55,919.99 303.25,929.98" fill="none" stroke="#ff0000" stroke-width="1.3" stroke-linejoin="round"/>
<circle cx="58" cy="896.21" r="3.2" fill="#ff0000"/>
<circle cx="66.17" cy="852.8" r="3.2" fill="#ff0000"/>
<circle cx="74.35" cy="843.84" r="3.2" fill="#ff0000"/>
<circle cx="90.7" cy="822.82" r="3.2" fill="#ff0000"/>
<circle cx="107.05" cy="810.07" r="3.2" fill="#ff0000"/>
<circle cx="123.4" cy="815.93" r="3.2" fill="#ff0000"/>
<circle cx="139.75" cy="832.47" r="3.2" fill="#ff0000"/>
<circle cx="172.45" cy="863.13" r="3.2" fill="#ff0000"/>
<circle cx="205.15" cy="884.5" r="3.2" fill="#ff0000"/>
<circle cx="237.85" cy="901.04" r="3.2" fill="#ff0000"/>
<circle cx="270.55" cy="919.99" r="3.2" fill="#ff0000"/>
<circle cx="303.25" cy="929.98" r="3.2" fill="#ff0000"/>
<polyline clip-path="url(#ce)" points="58,951 66.17,951 74.35,951 90.7,948.93 107.05,944.11 123.4,935.15 139.75,911.37 172.45,860.03 205.15,812.14 237.85,780.09 270.55,738.74 303.25,723.93" fill="none" stroke="#000000" stroke-width="1.3" stroke-linejoin="round"/>
<rect x="55.35" y="948.35" width="5.3" height="5.3" fill="#000000"/>
<rect x="63.52" y="948.35" width="5.3" height="5.3" fill="#000000"/>
<rect x="71.7" y="948.35" width="5.3" height="5.3" fill="#000000"/>
<rect x="88.05" y="946.28" width="5.3" height="5.3" fill="#000000"/>
<rect x="104.4" y="941.46" width="5.3" height="5.3" fill="#000000"/>
<rect x="120.75" y="932.5" width="5.3" height="5.3" fill="#000000"/>
<rect x="137.1" y="908.72" width="5.3" height="5.3" fill="#000000"/>
<rect x="169.8" y="857.38" width="5.3" height="5.3" fill="#000000"/>
<rect x="202.5" y="809.49" width="5.3" height="5.3" fill="#000000"/>
<rect x="235.2" y="777.44" width="5.3" height="5.3" fill="#000000"/>
<rect x="267.9" y="736.09" width="5.3" height="5.3" fill="#000000"/>
<rect x="300.6" y="721.28" width="5.3" height="5.3" fill="#000000"/>
<polyline clip-path="url(#ce)" points="58,946.52 66.17,946.18 74.35,945.83 90.7,943.42 107.05,943.07 123.4,940.66 139.75,937.56 172.45,935.84 205.15,933.77 237.85,933.77 270.55,933.77 303.25,937.22" fill="none" stroke="#ff00ff" stroke-width="1.3" stroke-linejoin="round"/>
<polygon points="61.2,942.92 61.2,950.12 54.8,946.52" fill="#ff00ff"/>
<polygon points="69.38,942.58 69.38,949.78 62.97,946.18" fill="#ff00ff"/>
<polygon points="77.55,942.23 77.55,949.43 71.15,945.83" fill="#ff00ff"/>
<polygon points="93.9,939.82 93.9,947.02 87.5,943.42" fill="#ff00ff"/>
<polygon points="110.25,939.47 110.25,946.67 103.85,943.07" fill="#ff00ff"/>
<polygon points="126.6,937.06 126.6,944.26 120.2,940.66" fill="#ff00ff"/>
<polygon points="142.95,933.96 142.95,941.16 136.55,937.56" fill="#ff00ff"/>
<polygon points="175.65,932.24 175.65,939.44 169.25,935.84" fill="#ff00ff"/>
<polygon points="208.35,930.17 208.35,937.37 201.95,933.77" fill="#ff00ff"/>
<polygon points="241.05,930.17 241.05,937.37 234.65,933.77" fill="#ff00ff"/>
<polygon points="273.75,930.17 273.75,937.37 267.35,933.77" fill="#ff00ff"/>
<polygon points="306.45,933.62 306.45,940.82 300.05,937.22" fill="#ff00ff"/>
<polyline clip-path="url(#ce)" points="58,951 66.17,951 74.35,951 90.7,951 107.05,950.14 123.4,946.52 139.75,941.7 172.45,936.53 205.15,929.64 237.85,923.78 270.55,916.2 303.25,911.37" fill="none" stroke="#c0c0c0" stroke-width="1.3" stroke-linejoin="round"/>
<polygon points="54.8,947.4 54.8,954.6 61.2,951" fill="#c0c0c0"/>
<polygon points="62.97,947.4 62.97,954.6 69.38,951" fill="#c0c0c0"/>
<polygon points="71.15,947.4 71.15,954.6 77.55,951" fill="#c0c0c0"/>
<polygon points="87.5,947.4 87.5,954.6 93.9,951" fill="#c0c0c0"/>
<polygon points="103.85,946.54 103.85,953.74 110.25,950.14" fill="#c0c0c0"/>
<polygon points="120.2,942.92 120.2,950.12 126.6,946.52" fill="#c0c0c0"/>
<polygon points="136.55,938.1 136.55,945.3 142.95,941.7" fill="#c0c0c0"/>
<polygon points="169.25,932.93 169.25,940.13 175.65,936.53" fill="#c0c0c0"/>
<polygon points="201.95,926.04 201.95,933.24 208.35,929.64" fill="#c0c0c0"/>
<polygon points="234.65,920.18 234.65,927.38 241.05,923.78" fill="#c0c0c0"/>
<polygon points="267.35,912.6 267.35,919.8 273.75,916.2" fill="#c0c0c0"/>
<polygon points="300.05,907.77 300.05,914.97 306.45,911.37" fill="#c0c0c0"/>
<text x="58" y="970.11" font-size="13.3" text-anchor="middle">0</text>
<text x="139.75" y="970.11" font-size="13.3" text-anchor="middle">5</text>
<text x="221.5" y="970.11" font-size="13.3" text-anchor="middle">10</text>
<text x="303.25" y="970.11" font-size="13.3" text-anchor="middle">15</text>
<text x="375.7" y="970.11" font-size="13.3" text-anchor="middle">20</text>
<text x="48.7" y="954.71" font-size="13.3" text-anchor="end">0</text>
<text x="48.7" y="920.25" font-size="13.3" text-anchor="end">10</text>
<text x="48.7" y="885.79" font-size="13.3" text-anchor="end">20</text>
<text x="48.7" y="851.33" font-size="13.3" text-anchor="end">30</text>
<text x="48.7" y="816.88" font-size="13.3" text-anchor="end">40</text>
<text x="48.7" y="782.42" font-size="13.3" text-anchor="end">50</text>
<text x="48.7" y="747.96" font-size="13.3" text-anchor="end">60</text>
<text x="48.7" y="713.51" font-size="13.3" text-anchor="end">70</text>
<text x="181.4" y="987.7" font-size="13.3" textLength="89.5" lengthAdjust="spacingAndGlyphs">Etch time (min)</text>
<text transform="translate(11.4,895.1) rotate(-90)" font-size="13.4" textLength="162.9" lengthAdjust="spacingAndGlyphs">Atomic concentration (at%)</text>
<line x1="145.5" y1="717.2" x2="170.6" y2="717.2" stroke="#0000ff" stroke-width="1.3"/>
<polygon points="154.3,714 161.5,714 157.9,720.4" fill="#0000ff"/>
<text x="174.6" y="721.39" font-size="13.3">O</text>
<line x1="145.5" y1="734.1" x2="170.6" y2="734.1" stroke="#00ff00" stroke-width="1.3"/>
<polygon points="154.3,737.3 161.5,737.3 157.9,730.9" fill="#00ff00"/>
<text x="174.6" y="738.29" font-size="13.3">Carbonate</text>
<line x1="145.5" y1="751.3" x2="170.6" y2="751.3" stroke="#ff0000" stroke-width="1.3"/>
<circle cx="157.9" cy="751.3" r="3.2" fill="#ff0000"/>
<text x="174.6" y="755.49" font-size="13.3">Mg compound</text>
<line x1="145.5" y1="769.2" x2="170.6" y2="769.2" stroke="#000000" stroke-width="1.3"/>
<rect x="155.25" y="766.55" width="5.3" height="5.3" fill="#000000"/>
<text x="174.6" y="773.39" font-size="13.3">Mg metal</text>
<line x1="145.5" y1="785.9" x2="170.6" y2="785.9" stroke="#ff00ff" stroke-width="1.3"/>
<polygon points="161.1,782.3 161.1,789.5 154.7,785.9" fill="#ff00ff"/>
<text x="174.6" y="790.09" font-size="13.3">Al compound</text>
<line x1="145.5" y1="803.1" x2="170.6" y2="803.1" stroke="#c0c0c0" stroke-width="1.3"/>
<polygon points="154.7,799.5 154.7,806.7 161.1,803.1" fill="#c0c0c0"/>
<text x="174.6" y="807.29" font-size="13.3">Al metal</text>
<text x="11.4" y="690" font-family="&quot;Liberation Serif&quot;, serif" font-size="24">(e)</text>
</g>
<g id="pf">
<clipPath id="cf"><rect x="457.8" y="707.7" width="329.3" height="241.9"/></clipPath>
<rect x="457.8" y="707.7" width="329.3" height="241.9" fill="none" stroke="#3c3c3c" stroke-width="1.5"/>
<path d="M457.8 949.6v4.6 M498.96 949.6v2.4 M540.12 949.6v4.6 M581.29 949.6v2.4 M622.45 949.6v4.6 M663.61 949.6v2.4 M704.77 949.6v4.6 M745.94 949.6v2.4 M787.1 949.6v4.6 M457.8 949.6h-4.6 M457.8 932.32h-2.4 M457.8 915.04h-4.6 M457.8 897.76h-2.4 M457.8 880.49h-4.6 M457.8 863.21h-2.4 M457.8 845.93h-4.6 M457.8 828.65h-2.4 M457.8 811.37h-4.6 M457.8 794.09h-2.4 M457.8 776.81h-4.6 M457.8 759.54h-2.4 M457.8 742.26h-4.6 M457.8 724.98h-2.4 M457.8 707.7h-4.6" stroke="#262626" stroke-width="1.3" fill="none"/>
<polyline clip-path="url(#cf)" points="457.8,801.7 466.03,739.49 474.26,739.49 490.73,750.9 507.19,752.97 523.66,760.57 540.12,766.79 573.06,786.84 605.99,806.53 638.91,829.51 671.85,854.57 721.24,883.6 787.1,906.06" fill="none" stroke="#0000ff" stroke-width="1.3" stroke-linejoin="round"/>
<polygon points="454.2,798.5 461.4,798.5 457.8,804.9" fill="#0000ff"/>
<polygon points="462.43,736.29 469.63,736.29 466.03,742.69" fill="#0000ff"/>
<polygon points="470.66,736.29 477.87,736.29 474.26,742.69" fill="#0000ff"/>
<polygon points="487.13,747.7 494.33,747.7 490.73,754.1" fill="#0000ff"/>
<polygon points="503.59,749.77 510.8,749.77 507.19,756.17" fill="#0000ff"/>
<polygon points="520.06,757.37 527.26,757.37 523.66,763.77" fill="#0000ff"/>
<polygon points="536.52,763.59 543.73,763.59 540.12,769.99" fill="#0000ff"/>
<polygon points="569.46,783.64 576.66,783.64 573.06,790.04" fill="#0000ff"/>
<polygon points="602.38,803.33 609.59,803.33 605.99,809.73" fill="#0000ff"/>
<polygon points="635.31,826.31 642.51,826.31 638.91,832.71" fill="#0000ff"/>
<polygon points="668.25,851.37 675.45,851.37 671.85,857.77" fill="#0000ff"/>
<polygon points="717.64,880.4 724.84,880.4 721.24,886.8" fill="#0000ff"/>
<polygon points="783.5,902.86 790.7,902.86 787.1,909.26" fill="#0000ff"/>
<polyline clip-path="url(#cf)" points="457.8,884.98 466.03,839.36 474.26,836.25 490.73,825.54 507.19,822.43 523.66,815.52 540.12,811.72 573.06,821.39 605.99,832.8 638.91,855.95 671.85,871.85 721.24,888.43 787.1,913.66" fill="none" stroke="#ff0000" stroke-width="1.3" stroke-linejoin="round"/>
<circle cx="457.8" cy="884.98" r="3.2" fill="#ff0000"/>
<circle cx="466.03" cy="839.36" r="3.2" fill="#ff0000"/>
<circle cx="474.26" cy="836.25" r="3.2" fill="#ff0000"/>
<circle cx="490.73" cy="825.54" r="3.2" fill="#ff0000"/>
<circle cx="507.19" cy="822.43" r="3.2" fill="#ff0000"/>
<circle cx="523.66" cy="815.52" r="3.2" fill="#ff0000"/>
<circle cx="540.12" cy="811.72" r="3.2" fill="#ff0000"/>
<circle cx="573.06" cy="821.39" r="3.2" fill="#ff0000"/>
<circle cx="605.99" cy="832.8" r="3.2" fill="#ff0000"/>
<circle cx="638.91" cy="855.95" r="3.2" fill="#ff0000"/>
<circle cx="671.85" cy="871.85" r="3.2" fill="#ff0000"/>
<circle cx="721.24" cy="888.43" r="3.2" fill="#ff0000"/>
<circle cx="787.1" cy="913.66" r="3.2" fill="#ff0000"/>
<polyline clip-path="url(#cf)" points="457.8,949.6 466.03,949.6 474.26,949.6 490.73,949.6 507.19,949.6 523.66,948.56 540.12,945.45 573.06,924.37 605.99,897.07 638.91,862 671.85,825.54 721.24,788.56 787.1,742.6" fill="none" stroke="#000000" stroke-width="1.3" stroke-linejoin="round"/>
<rect x="455.15" y="946.95" width="5.3" height="5.3" fill="#000000"/>
<rect x="463.38" y="946.95" width="5.3" height="5.3" fill="#000000"/>
<rect x="471.62" y="946.95" width="5.3" height="5.3" fill="#000000"/>
<rect x="488.08" y="946.95" width="5.3" height="5.3" fill="#000000"/>
<rect x="504.55" y="946.95" width="5.3" height="5.3" fill="#000000"/>
<rect x="521.01" y="945.91" width="5.3" height="5.3" fill="#000000"/>
<rect x="537.48" y="942.8" width="5.3" height="5.3" fill="#000000"/>
<rect x="570.41" y="921.72" width="5.3" height="5.3" fill="#000000"/>
<rect x="603.34" y="894.42" width="5.3" height="5.3" fill="#000000"/>
<rect x="636.26" y="859.35" width="5.3" height="5.3" fill="#000000"/>
<rect x="669.2" y="822.89" width="5.3" height="5.3" fill="#000000"/>
<rect x="718.59" y="785.91" width="5.3" height="5.3" fill="#000000"/>
<rect x="784.45" y="739.95" width="5.3" height="5.3" fill="#000000"/>
<polyline clip-path="url(#cf)" points="457.8,948.91 466.03,947.18 474.26,946.14 490.73,944.76 507.19,943.73 523.66,943.55 540.12,943.03 573.06,942.69 605.99,940.44 638.91,938.02 671.85,936.81 721.24,940.62 787.1,942.52" fill="none" stroke="#ff00ff" stroke-width="1.3" stroke-linejoin="round"/>
<polygon points="461,945.31 461,952.51 454.6,948.91" fill="#ff00ff"/>
<polygon points="469.23,943.58 469.23,950.78 462.83,947.18" fill="#ff00ff"/>
<polygon points="477.46,942.54 477.46,949.74 471.06,946.14" fill="#ff00ff"/>
<polygon points="493.93,941.16 493.93,948.36 487.53,944.76" fill="#ff00ff"/>
<polygon points="510.39,940.13 510.39,947.33 504,943.73" fill="#ff00ff"/>
<polygon points="526.86,939.95 526.86,947.15 520.46,943.55" fill="#ff00ff"/>
<polygon points="543.33,939.43 543.33,946.63 536.92,943.03" fill="#ff00ff"/>
<polygon points="576.26,939.09 576.26,946.29 569.86,942.69" fill="#ff00ff"/>
<polygon points="609.19,936.84 609.19,944.04 602.78,940.44" fill="#ff00ff"/>
<polygon points="642.12,934.42 642.12,941.62 635.71,938.02" fill="#ff00ff"/>
<polygon points="675.05,933.21 675.05,940.41 668.64,936.81" fill="#ff00ff"/>
<polygon points="724.44,937.02 724.44,944.22 718.04,940.62" fill="#ff00ff"/>
<polygon points="790.3,938.92 790.3,946.12 783.9,942.52" fill="#ff00ff"/>
<polyline clip-path="url(#cf)" points="457.8,949.6 466.03,949.6 474.26,949.6 490.73,949.6 507.19,949.6 523.66,948.91 540.12,947.53 573.06,942.69 605.99,935.43 638.91,929.9 671.85,925.06 721.24,915.39 787.1,906.4" fill="none" stroke="#c0c0c0" stroke-width="1.3" stroke-linejoin="round"/>
<polygon points="461,946 461,953.2 454.6,949.6" fill="#c0c0c0"/>
<polygon points="469.23,946 469.23,953.2 462.83,949.6" fill="#c0c0c0"/>
<polygon points="477.46,946 477.46,953.2 471.06,949.6" fill="#c0c0c0"/>
<polygon points="493.93,946 493.93,953.2 487.53,949.6" fill="#c0c0c0"/>
<polygon points="510.39,946 510.39,953.2 504,949.6" fill="#c0c0c0"/>
<polygon points="526.86,945.31 526.86,952.51 520.46,948.91" fill="#c0c0c0"/>
<polygon points="543.33,943.93 543.33,951.13 536.92,947.53" fill="#c0c0c0"/>
<polygon points="576.26,939.09 576.26,946.29 569.86,942.69" fill="#c0c0c0"/>
<polygon points="609.19,931.83 609.19,939.03 602.78,935.43" fill="#c0c0c0"/>
<polygon points="642.12,926.3 642.12,933.5 635.71,929.9" fill="#c0c0c0"/>
<polygon points="675.05,921.46 675.05,928.66 668.64,925.06" fill="#c0c0c0"/>
<polygon points="724.44,911.79 724.44,918.99 718.04,915.39" fill="#c0c0c0"/>
<polygon points="790.3,902.8 790.3,910 783.9,906.4" fill="#c0c0c0"/>
<text x="457.8" y="969.36" font-size="13.5" text-anchor="middle">0</text>
<text x="540.12" y="969.36" font-size="13.5" text-anchor="middle">5</text>
<text x="622.45" y="969.36" font-size="13.5" text-anchor="middle">10</text>
<text x="704.77" y="969.36" font-size="13.5" text-anchor="middle">15</text>
<text x="787.1" y="969.36" font-size="13.5" text-anchor="middle">20</text>
<text x="448.5" y="953.38" font-size="13.5" text-anchor="end">0</text>
<text x="448.5" y="918.82" font-size="13.5" text-anchor="end">10</text>
<text x="448.5" y="884.26" font-size="13.5" text-anchor="end">20</text>
<text x="448.5" y="849.71" font-size="13.5" text-anchor="end">30</text>
<text x="448.5" y="815.15" font-size="13.5" text-anchor="end">40</text>
<text x="448.5" y="780.59" font-size="13.5" text-anchor="end">50</text>
<text x="448.5" y="746.03" font-size="13.5" text-anchor="end">60</text>
<text x="448.5" y="711.48" font-size="13.5" text-anchor="end">70</text>
<text x="585.3" y="985.7" font-size="13.5" textLength="89.5" lengthAdjust="spacingAndGlyphs">Etch time (min)</text>
<text transform="translate(410.6,897.6) rotate(-90)" font-size="14.0" textLength="162" lengthAdjust="spacingAndGlyphs">Atomic concentration (at%)</text>
<line x1="596.1" y1="718.4" x2="622" y2="718.4" stroke="#0000ff" stroke-width="1.3"/>
<polygon points="605.6,715.2 612.8,715.2 609.2,721.6" fill="#0000ff"/>
<text x="626.2" y="722.66" font-size="13.5">O</text>
<line x1="596.1" y1="735.8" x2="622" y2="735.8" stroke="#ff0000" stroke-width="1.3"/>
<circle cx="609.2" cy="735.8" r="3.2" fill="#ff0000"/>
<text x="626.2" y="740.06" font-size="13.5">Mg compound</text>
<line x1="596.1" y1="753" x2="622" y2="753" stroke="#000000" stroke-width="1.3"/>
<rect x="606.55" y="750.35" width="5.3" height="5.3" fill="#000000"/>
<text x="626.2" y="757.26" font-size="13.5">Mg metal</text>
<line x1="596.1" y1="770.4" x2="622" y2="770.4" stroke="#ff00ff" stroke-width="1.3"/>
<polygon points="612.4,766.8 612.4,774 606,770.4" fill="#ff00ff"/>
<text x="626.2" y="774.66" font-size="13.5">Al compound</text>
<line x1="596.1" y1="787.6" x2="622" y2="787.6" stroke="#c0c0c0" stroke-width="1.3"/>
<polygon points="612.4,784 612.4,791.2 606,787.6" fill="#c0c0c0"/>
<text x="626.2" y="791.86" font-size="13.5">Al metal</text>
<text x="398.4" y="689.2" font-family="&quot;Liberation Serif&quot;, serif" font-size="24">(f)</text>
</g>
</svg>
</body></html>
